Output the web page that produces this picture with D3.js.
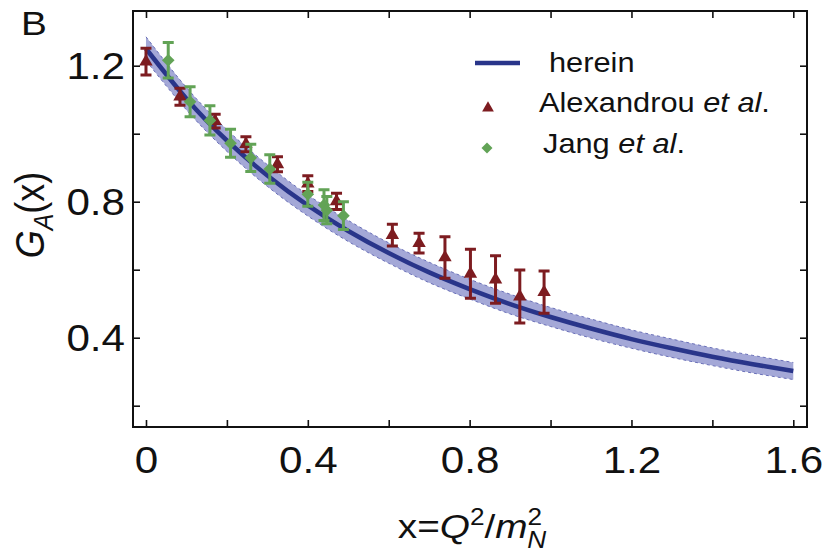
<!DOCTYPE html>
<html>
<head>
<meta charset="utf-8">
<script src="https://cdn.jsdelivr.net/npm/d3@7/dist/d3.min.js"></script>
<style>
  body { margin: 0; background: #fff; }
  svg text { font-family: "Liberation Sans", Arial, Helvetica, sans-serif; fill: #111; }
</style>
</head>
<body>
<svg id="viz" width="825" height="554"></svg>
<script>
"use strict";
// curve (herein) with its uncertainty band
const curveX = [0, 0.1, 0.2, 0.3, 0.4, 0.5, 0.6, 0.7, 0.8, 0.9, 1.0, 1.1, 1.2, 1.3, 1.4, 1.5, 1.6];
const curveY = [1.250, 1.103, 0.980, 0.877, 0.789, 0.714, 0.649, 0.592, 0.543, 0.499, 0.461, 0.427, 0.396, 0.369, 0.344, 0.322, 0.302];
const bandUpper = [1.285, 1.136, 1.012, 0.909, 0.820, 0.745, 0.679, 0.622, 0.572, 0.528, 0.489, 0.455, 0.423, 0.396, 0.370, 0.348, 0.327];
const bandLower = [1.215, 1.070, 0.948, 0.845, 0.758, 0.683, 0.619, 0.562, 0.514, 0.470, 0.433, 0.399, 0.369, 0.342, 0.318, 0.296, 0.277];

// Alexandrou et al.
const alexX = [0.000, 0.084, 0.171, 0.247, 0.325, 0.400, 0.471, 0.609, 0.675, 0.739, 0.802, 0.864, 0.924, 0.984];
const alexY = [1.212, 1.109, 1.037, 0.969, 0.910, 0.853, 0.801, 0.702, 0.678, 0.636, 0.588, 0.571, 0.521, 0.534];
const alexErr = [0.039, 0.025, 0.020, 0.022, 0.022, 0.023, 0.024, 0.032, 0.029, 0.061, 0.072, 0.070, 0.078, 0.062];

// Jang et al.
const jangX = [0.055, 0.109, 0.158, 0.209, 0.259, 0.306, 0.400, 0.440, 0.447, 0.488];
const jangY = [1.216, 1.094, 1.039, 0.972, 0.929, 0.896, 0.822, 0.790, 0.775, 0.759];
const jangErr = [0.052, 0.044, 0.043, 0.041, 0.040, 0.042, 0.035, 0.045, 0.040, 0.041];

const xTicks = [0, 0.2, 0.4, 0.6, 0.8, 1.0, 1.2, 1.4, 1.6];
const yTicks = [0.2, 0.4, 0.6, 0.8, 1.0, 1.2];
const labelStep = 0.4;

const NAVY = "#29358a", BAND = "#9a9fd3", BAND_EDGE = "#6a70b8", RED = "#7d1c20", GREEN = "#62a356";
const SX = 1.14; // text in the picture is a little wider than the font

let svg = d3.select("#viz"), w = 825, h = 554, margin = {
    top: 11,
    left: 133,
    bottom: 127,
    right: 18
};

let xScale = d3.scaleLinear().domain([-0.0321, 1.6339]).range([margin.left, w - margin.right]),
    yScale = d3.scaleLinear().domain([0.1374, 1.3609]).range([h - margin.bottom, margin.top]);

let fmt = (d) => {
    if (Math.abs(d / labelStep - Math.round(d / labelStep)) > 1e-6) return "";
    return d === 0 ? "0" : d.toFixed(1);
};

// band
let curve = curveX.map((x, i) => ({ x: x, y: curveY[i], lo: bandLower[i], hi: bandUpper[i] }));
svg.append("path")
    .datum(curve)
    .attr("fill", BAND)
    .attr("fill-opacity", 0.9)
    .attr("d", d3.area().curve(d3.curveNatural)
        .x(d => xScale(d.x)).y0(d => yScale(d.lo)).y1(d => yScale(d.hi)));
["lo", "hi"].forEach(k => {
    svg.append("path")
        .datum(curve)
        .attr("fill", "none")
        .attr("stroke", BAND_EDGE)
        .attr("stroke-width", 1)
        .style("stroke-dasharray", ("3, 3"))
        .attr("d", d3.line().curve(d3.curveNatural).x(d => xScale(d.x)).y(d => yScale(d[k])));
});
svg.append("path")
    .datum(curve)
    .attr("fill", "none")
    .attr("stroke", NAVY)
    .attr("stroke-width", 4.5)
    .attr("d", d3.line().curve(d3.curveNatural).x(d => xScale(d.x)).y(d => yScale(d.y)));

// error bars + markers
function drawSeries(xs, ys, es, color, symbol) {
    let pts = xs.map((x, i) => ({ x: x, y: ys[i], e: es[i] }));
    let g = svg.append("g").attr("stroke", color).attr("fill", color);
    g.selectAll(".bar").data(pts).enter().append("path")
        .attr("fill", "none")
        .attr("stroke-width", 3)
        .attr("d", (d) => {
            let cx = xScale(d.x), t = yScale(d.y + d.e), b = yScale(d.y - d.e);
            return `M${cx},${t}V${b}M${cx - 5.5},${t}h11M${cx - 5.5},${b}h11`;
        });
    g.selectAll(".mark").data(pts).enter().append("path")
        .attr("stroke", "none")
        .attr("transform", (d) => `translate(${xScale(d.x)}, ${yScale(d.y)})` + symbol.rot)
        .attr("d", symbol.big);
}
let tri = { path: d3.symbol(d3.symbolTriangle, 60)(), big: d3.symbol(d3.symbolTriangle, 78)(), rot: "" };
let dia = { path: d3.symbol(d3.symbolSquare, 60)(), big: d3.symbol(d3.symbolSquare, 80)(), rot: " rotate(45)" };
drawSeries(alexX, alexY, alexErr, RED, tri);
drawSeries(jangX, jangY, jangErr, GREEN, dia);

// axes (ticks inside, mirrored on top/right)
let xAxis = d3.axisBottom(xScale).tickValues(xTicks).tickSizeInner(-7).tickSizeOuter(0).tickPadding(20).tickFormat(fmt);
let yAxis = d3.axisLeft(yScale).tickValues(yTicks).tickSizeInner(-7).tickSizeOuter(0).tickPadding(8).tickFormat(fmt);
let gx = svg.append("g")
    .attr("class", "x axis")
    .attr("transform", `translate(0, ${h - margin.bottom})`)
    .call(xAxis);
let gy = svg.append("g")
    .attr("class", "y axis")
    .attr("transform", `translate(${margin.left}, 0)`)
    .call(yAxis);
svg.append("g")
    .attr("transform", `translate(0, ${margin.top})`)
    .call(d3.axisTop(xScale).tickValues(xTicks).tickSizeInner(-7).tickSizeOuter(0).tickFormat(""));
svg.append("g")
    .attr("transform", `translate(${w - margin.right}, 0)`)
    .call(d3.axisRight(yScale).tickValues(yTicks).tickSizeInner(-7).tickSizeOuter(0).tickFormat(""));
svg.selectAll(".domain").remove();
svg.selectAll(".tick line").attr("stroke", "#111").attr("stroke-width", 1.6);
svg.selectAll(".x.axis text, .y.axis text")
    .style("font-size", "37px")
    .attr("fill", "#111")
    .attr("transform", `scale(${SX},1)`);
gy.selectAll("text").attr("x", -8 / SX).attr("dy", "0.35em");

svg.append("rect")
    .attr("x", margin.left).attr("y", margin.top)
    .attr("width", w - margin.left - margin.right)
    .attr("height", h - margin.top - margin.bottom)
    .attr("fill", "none").attr("stroke", "#111").attr("stroke-width", 2);

// axis titles
let xt = svg.append("text")
    .attr("transform", `translate(${(margin.left + w - margin.right) / 2 + 2}, 538) scale(${SX},1)`)
    .attr("text-anchor", "middle")
    .style("font-size", "34px");
xt.append("tspan").text("x=");
xt.append("tspan").style("font-style", "italic").text("Q");
xt.append("tspan").attr("dy", -13).style("font-size", "23px").text("2");
xt.append("tspan").attr("dy", 13).text("/");
xt.append("tspan").style("font-style", "italic").text("m");
xt.append("tspan").attr("dy", -13).style("font-size", "23px").text("2");
xt.append("tspan").attr("dx", -13).attr("dy", 23).style("font-size", "23px").style("font-style", "italic").text("N");

let yt = svg.append("text")
    .attr("transform", `translate(44, ${(margin.top + h - margin.bottom) / 2 - 4}) scale(${SX},1) rotate(-90)`)
    .attr("text-anchor", "middle")
    .style("font-size", "36px");
yt.append("tspan").style("font-style", "italic").text("G");
yt.append("tspan").attr("dy", 8).style("font-size", "25px").style("font-style", "italic").text("A");
yt.append("tspan").attr("dy", -8).text("(x)");

svg.append("text")
    .attr("transform", `translate(21, 35) scale(${SX},1)`)
    .style("font-size", "34px")
    .text("B");

// legend
let legend = svg.append("g").attr("class", "legend");
legend.append("line")
    .attr("x1", 475).attr("x2", 520).attr("y1", 63).attr("y2", 63)
    .attr("stroke", NAVY).attr("stroke-width", 4.5);
legend.append("path").attr("fill", RED)
    .attr("transform", "translate(488, 108)").attr("d", tri.path);
legend.append("path").attr("fill", GREEN)
    .attr("transform", "translate(487, 148) rotate(45)").attr("d", dia.path);
let legendRows = [
    { x: 549, y: 72, text: "herein", ital: "" },
    { x: 539, y: 112, text: "Alexandrou ", ital: "et al" },
    { x: 543, y: 153, text: "Jang ", ital: "et al" }
];
legendRows.forEach(r => {
    let t = legend.append("text")
        .attr("transform", `translate(${r.x}, ${r.y}) scale(${SX},1)`)
        .style("font-size", "27px");
    t.append("tspan").text(r.text);
    if (r.ital) {
        t.append("tspan").style("font-style", "italic").text(r.ital);
        t.append("tspan").text(".");
    }
});
</script>
</body>
</html>
